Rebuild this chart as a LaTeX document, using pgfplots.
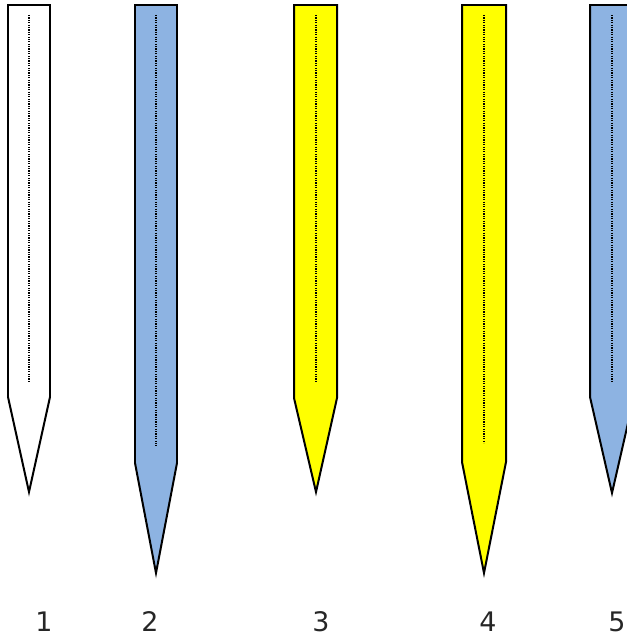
\documentclass[border=0pt]{standalone}
\usepackage{fontspec}
\setmainfont{DejaVu Sans}
\usepackage{pgfplots}
\pgfplotsset{compat=1.18}
\definecolor{pblue}{HTML}{8DB3E2}
\definecolor{pyellow}{HTML}{FFFF00}
\pgfplotsset{
  pencil/.style={draw=black, line width=2pt, line join=miter},
  lead/.style={black, line width=1.6pt, dash pattern=on 1.2pt off 1.2pt},
}
\begin{document}
\begin{tikzpicture}
\begin{axis}[
  width=627bp, height=639bp, scale only axis,
  xmin=0, xmax=627, ymin=0, ymax=639, y dir=reverse,
  hide axis, clip=true,
]
\addplot[draw=none, forget plot] coordinates {(0,0) (627,639)};
% pencil 1
\addplot[pencil, fill=white] coordinates {(8,5) (50,5) (50,397) (29,492) (8,397)} -- cycle;
\addplot[lead] coordinates {(29,15) (29,381)};
% pencil 2
\addplot[pencil, fill=pblue] coordinates {(135,5) (177,5) (177,463) (156,573) (135,463)} -- cycle;
\addplot[lead] coordinates {(156,15) (156,446)};
% pencil 3
\addplot[pencil, fill=pyellow] coordinates {(294,5) (337,5) (337,398) (316,492) (294,398)} -- cycle;
\addplot[lead] coordinates {(316,15) (316,382)};
% pencil 4
\addplot[pencil, fill=pyellow] coordinates {(462,5) (506,5) (506,462) (484,573) (462,462)} -- cycle;
\addplot[lead] coordinates {(484,15) (484,443)};
% pencil 5
\addplot[pencil, fill=pblue] coordinates {(590,5) (634,5) (634,397) (612,493) (590,397)} -- cycle;
\addplot[lead] coordinates {(612,15) (612,382)};
% labels
\node[font=\fontsize{27}{30}\selectfont, text=black!85] at (axis cs:44,622) {1};
\node[font=\fontsize{27}{30}\selectfont, text=black!85] at (axis cs:150,622) {2};
\node[font=\fontsize{27}{30}\selectfont, text=black!85] at (axis cs:321,622) {3};
\node[font=\fontsize{27}{30}\selectfont, text=black!85] at (axis cs:488,622) {4};
\node[font=\fontsize{27}{30}\selectfont, text=black!85] at (axis cs:617,622) {5};
\end{axis}
\end{tikzpicture}
\end{document}
